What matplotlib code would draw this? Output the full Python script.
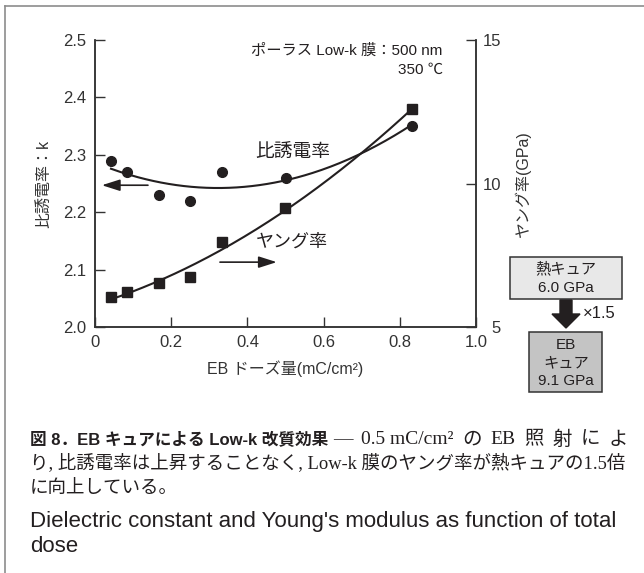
import numpy as np
import matplotlib
matplotlib.use('Agg')
from matplotlib import pyplot as plt
from matplotlib.patches import Rectangle, FancyArrow

plt.rcParams['font.family'] = ['Liberation Sans', 'Noto Sans CJK JP']

# EB dose (mC/cm2), dielectric constant k, Young's modulus (GPa)
dose = [0.042, 0.083, 0.167, 0.25, 0.333, 0.5, 0.833]
k_value = [2.29, 2.27, 2.23, 2.22, 2.27, 2.26, 2.35]
young = [6.03, 6.23, 6.55, 6.73, 7.96, 9.14, 12.58]

x_ticks = [0, 0.2, 0.4, 0.6, 0.8, 1.0]
x_labels = ['0', '0.2', '0.4', '0.6', '0.8', '1.0']
k_ticks = [2.0, 2.1, 2.2, 2.3, 2.4, 2.5]
k_labels = ['2.0', '2.1', '2.2', '2.3', '2.4', '2.5']
young_ticks = [5, 10, 15]

heat_cure = 6.0
eb_cure = 9.1

INK = '#231f20'
SERIF = ['Liberation Serif', 'Noto Sans CJK JP']
SANS = ['Liberation Sans', 'Noto Sans CJK JP']

fig = plt.figure(figsize=(6.44, 5.73), dpi=100)

# overlay in pixel coordinates for frame, boxes and caption
ax0 = fig.add_axes([0, 0, 1, 1])
ax0.set_xlim(0, 644)
ax0.set_ylim(573, 0)
ax0.axis('off')

ax = fig.add_axes([95 / 644, 1 - 327 / 573, 381 / 644, 287 / 573])
ax.patch.set_alpha(0)
ax2 = ax.twinx()

# fitted trend curves
x_fit = np.linspace(min(dose), max(dose), 200)
k_fit = np.polyval(np.polyfit(dose, k_value, 2), x_fit)
y_fit = np.polyval(np.polyfit(dose, young, 2), x_fit)

ax.plot(x_fit, k_fit, color=INK, lw=1.5)
ax.plot(dose, k_value, 'o', color=INK, ms=7, clip_on=False)
ax2.plot(x_fit, y_fit, color=INK, lw=1.5)
ax2.plot(dose, young, 's', color=INK, ms=6.8, clip_on=False)

ax.set_xlim(0, 1.0)
ax.set_ylim(2.0, 2.5)
ax2.set_ylim(5, 15)
ax.set_xticks(x_ticks)
ax.set_xticklabels(x_labels)
ax.set_yticks(k_ticks)
ax.set_yticklabels(k_labels)
ax2.set_yticks(young_ticks)

for a in (ax, ax2):
    a.spines['top'].set_visible(False)
    for s in a.spines.values():
        s.set_color('#333333')
        s.set_linewidth(1.1)
ax.tick_params(direction='in', length=7, width=1, color='#333333',
               labelsize=12, labelcolor='#333333', pad=6)
ax2.tick_params(direction='in', length=7, width=1, color='#333333',
                labelsize=12, labelcolor='#333333', pad=18)
for lab in ax2.get_yticklabels():
    lab.set_horizontalalignment('right')

ax.set_xlabel('EB ドーズ量(mC/cm²)', fontsize=11.5, color='#333333', labelpad=7)
ax.set_ylabel('比誘電率：k', fontsize=11.5, color='#333333', labelpad=9)
ax2.set_ylabel('ヤング率(GPa)', fontsize=11.5, color='#333333', labelpad=10)

ax.text(0.913, 2.482, 'ポーラス Low-k 膜：500 nm', ha='right', va='center',
        fontsize=11, color=INK)
ax.text(0.913, 2.448, '350 ℃', ha='right', va='center', fontsize=11, color=INK)
ax.text(0.52, 2.302, '比誘電率', ha='center', va='center', fontsize=13.5, color=INK)
ax.text(0.517, 2.148, 'ヤング率', ha='center', va='center', fontsize=13, color=INK)

arrow_style = '-|>,head_length=1.1,head_width=0.35'
ax.annotate('', xy=(0.018, 2.247), xytext=(0.139, 2.247),
            arrowprops=dict(arrowstyle=arrow_style, color=INK, lw=1.2,
                            shrinkA=0, shrinkB=0))
ax.annotate('', xy=(0.477, 2.113), xytext=(0.328, 2.113),
            arrowprops=dict(arrowstyle=arrow_style, color=INK, lw=1.2,
                            shrinkA=0, shrinkB=0))

# frame
ax0.plot([5.5, 644], [5.5, 5.5], color='#8c8c8c', lw=1.2, clip_on=False)
ax0.plot([5.5, 5.5], [5.5, 573], color='#8c8c8c', lw=1.2, clip_on=False)

# cure comparison boxes
ax0.add_patch(Rectangle((510, 257), 112, 42, facecolor='#e8e8e8',
                        edgecolor='#333333', lw=1.1))
ax0.text(566, 269, '熱キュア', ha='center', va='center', fontsize=11, color=INK)
ax0.text(566, 288, f'{heat_cure:.1f} GPa', ha='center', va='center',
         fontsize=11, color=INK)
ax0.add_patch(FancyArrow(566, 300, 0, 28, width=12, head_width=28,
                         head_length=14, length_includes_head=True,
                         color=INK))
ax0.text(583, 313, f'×{eb_cure / heat_cure:.1f}', ha='left', va='center',
         fontsize=12, color=INK)
ax0.add_patch(Rectangle((529, 332), 73, 60, facecolor='#c4c4c4',
                        edgecolor='#333333', lw=1.1))
ax0.text(566, 345, 'EB', ha='center', va='center', fontsize=11, color=INK)
ax0.text(566, 363, 'キュア', ha='center', va='center', fontsize=11, color=INK)
ax0.text(566, 381, f'{eb_cure:.1f} GPa', ha='center', va='center',
         fontsize=11, color=INK)


def justify(tokens, x0, x1, y, **kw):
    # spread tokens evenly between x0 and x1 (pixel coords), like set type
    renderer = fig.canvas.get_renderer()
    texts = [ax0.text(0, y, t, ha='left', va='center', **kw) for t in tokens]
    widths = [t.get_window_extent(renderer).width for t in texts]
    gap = (x1 - x0 - sum(widths)) / max(len(tokens) - 1, 1)
    x = x0
    for t, w in zip(texts, widths):
        t.set_x(x)
        x += w + gap


# caption
t1 = ax0.text(30, 440, '図 8．EB キュアによる Low-k 改質効果', ha='left',
              va='center', fontsize=12, fontweight='bold', color=INK,
              family=SANS)
fig.canvas.draw()
bold_end = t1.get_window_extent().x1
justify(['—', '0.5 mC/cm²', 'の', 'EB', '照', '射', 'に', 'よ'],
        bold_end + 5, 628, 440, fontsize=14, color=INK, family=SERIF)
ax0.text(30, 464, 'り, 比誘電率は上昇することなく, Low-k 膜のヤング率が熱キュアの1.5倍',
         ha='left', va='center', fontsize=13.3, color=INK, family=SERIF)
ax0.text(30, 488, 'に向上している。', ha='left', va='center', fontsize=13.3,
         color=INK, family=SERIF)
ax0.text(30, 522, "Dielectric constant and Young's modulus as function of total",
         ha='left', va='center', fontsize=16, color=INK, family=SANS)
ax0.text(30, 547, 'dose', ha='left', va='center', fontsize=16, color=INK,
         family=SANS)

fig.savefig('out.png', dpi=100)
